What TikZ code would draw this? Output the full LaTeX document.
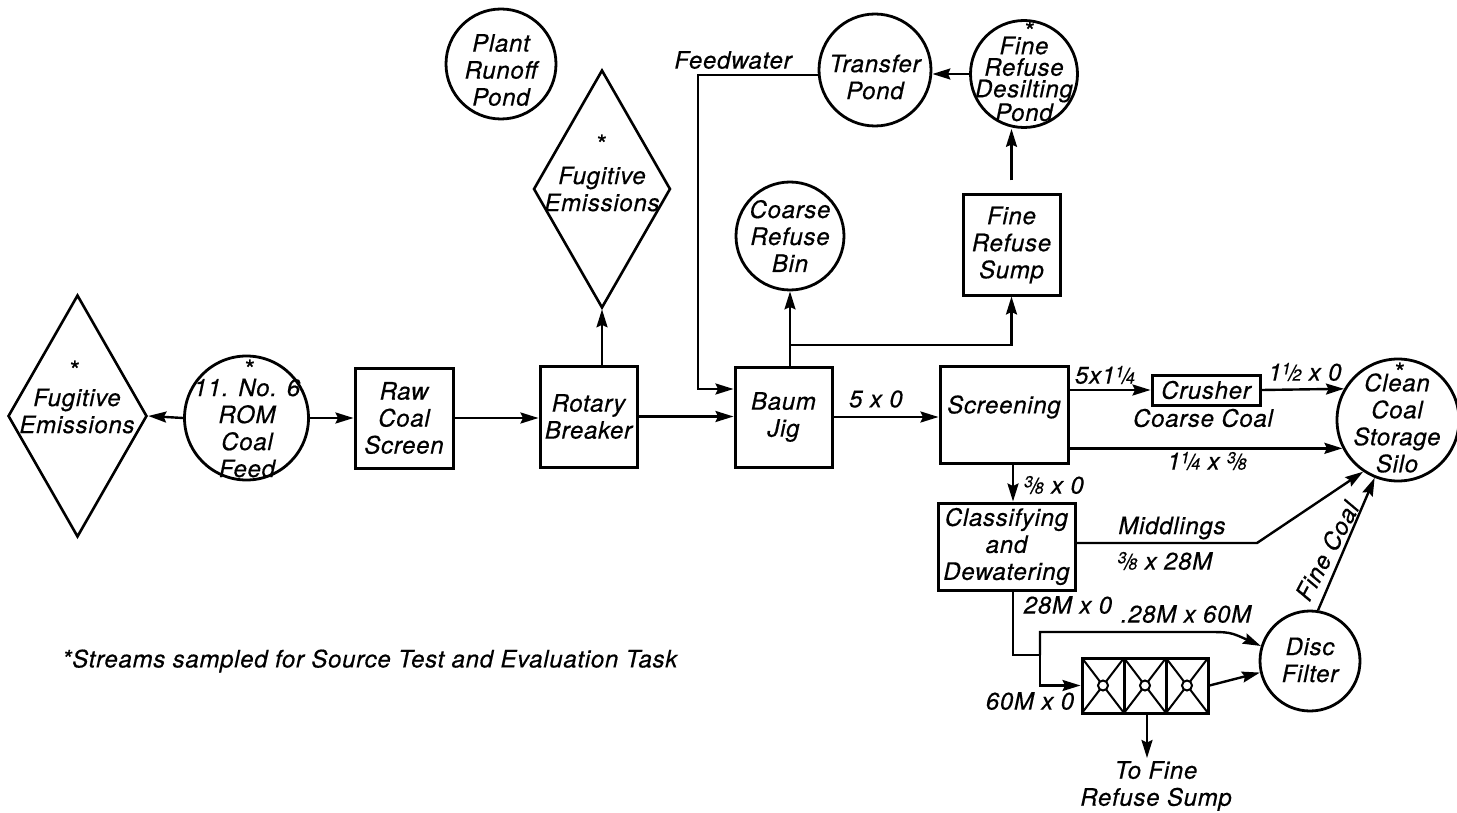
\documentclass[tikz,border=0pt]{standalone}
\usepackage{fontspec}
\setmainfont[LetterSpace=3,FakeBold=0.5]{TeX Gyre Heros}
\usetikzlibrary{shapes.geometric,arrows.meta}
\newcommand\myfrac[2]{\raisebox{0.5ex}{\fontsize{16}{16}\selectfont #1}\kern-0.08em{\fontsize{22}{22}\selectfont /}\kern-0.1em{\fontsize{16}{16}\selectfont #2}}
\begin{document}
\begin{tikzpicture}[x=1pt,y=-1pt,
 lbl/.style={font=\fontsize{24}{27}\selectfont\itshape, align=center, inner sep=0pt},
 star/.style={font=\fontsize{26}{26}\selectfont, inner sep=0pt},
 box/.style={draw, line width=3pt, inner sep=0pt, lbl},
 circ/.style={draw, circle, line width=2.8pt, inner sep=0pt},
 dia/.style={draw, diamond, line width=2.6pt, inner sep=0pt},
 line/.style={line width=2.4pt},
 flow/.style={line width=2.4pt, -{Stealth[length=18pt,width=11pt,inset=2.5pt]}},
]
\useasboundingbox (0,0) rectangle (1457,813);

% left diamond and ROM feed
\node[dia, minimum width=139, minimum height=242] (dl) at (77.5,416) {};
\node[star] (dls) at (75,370) {*};
\node[lbl] (dlt) at (77,411) {Fugitive\\Emissions};
\node[circ, minimum size=124] (rom) at (246.5,418) {};
\node[star] (roms) at (250,369) {*};
\node[lbl] (romt) at (247,428) {11. No. 6\\ROM\\Coal\\Feed};
\node[box, minimum width=98, minimum height=100] (raw) at (404,418) {Raw\\Coal\\Screen};
\node[box, minimum width=97, minimum height=101] (rb) at (588.5,416.5) {Rotary\\Breaker};
\node[dia, minimum width=137, minimum height=238] (dt) at (602,189) {};
\node[star] (dts) at (602,144) {*};
\node[lbl] (dtt) at (602,189) {Fugitive\\Emissions};
\node[circ, minimum size=110] (prp) at (501,64) {};
\node[lbl] (prpt) at (501,70) {Plant\\Runoff\\Pond};
\node[box, minimum width=97, minimum height=100] (jig) at (783.5,417) {Baum\\Jig};
\node[circ, minimum size=112] (tp) at (875,70) {};
\node[lbl] (tpt) at (875,77) {Transfer\\Pond};
\node[circ, minimum size=107] (dp) at (1024,74) {};
\node[star] (dps) at (1030,31) {*};
\node[lbl, font=\fontsize{24}{21.5}\selectfont\itshape] (dpt) at (1024,79) {Fine\\Refuse\\Desilting\\Pond};
\node[circ, minimum size=108] (bin) at (790,236) {};
\node[lbl] (bint) at (790,236) {Coarse\\Refuse\\Bin};
\node[box, minimum width=97, minimum height=100] (sump) at (1011.5,245) {Fine\\Refuse\\Sump};
\node[box, minimum width=128, minimum height=97] (scr) at (1004,414.5) {};
\node[lbl] (scrt) at (1004,407) {Screening};
\node[box, minimum width=108, minimum height=30] (cru) at (1206,390) {Crusher};
\node[lbl] (cct) at (1203,418) {Coarse Coal};
\node[circ, minimum size=122] (silo) at (1398,420) {};
\node[star] (silos) at (1400,372) {*};
\node[lbl] (silot) at (1397,423) {Clean\\Coal\\Storage\\Silo};
\node[box, minimum width=137, minimum height=87] (cls) at (1006.5,546.5) {Classifying\\and\\Dewatering};
\node[circ, minimum size=100] (df) at (1310,661) {};
\node[lbl] (dft) at (1310,660) {Disc\\Filter};

% cyclone bank
\node[draw, line width=3pt, minimum width=126, minimum height=55, inner sep=0pt] (cyc) at (1145,685.5) {};
\foreach \i in {0,1,2} {
  \pgfmathsetmacro\xa{1082+42*\i}
  \pgfmathsetmacro\xb{\xa+42}
  \draw[line width=2pt] (\xa,658) -- (\xb,713) (\xa,713) -- (\xb,658);
  \draw[line width=2pt, fill=white] ({\xa+21},685.5) circle[radius=5pt];
}
\draw[line width=3pt] (1124,658) -- (1124,713) (1166,658) -- (1166,713);

% labels
\node[lbl] (l1) at (876,399) {5 x 0};
\node[lbl] (l2) at (1105,375) {5x1\myfrac{1}{4}};
\node[lbl] (l3) at (1305,372) {1\myfrac{1}{2} x 0};
\node[lbl] (l4) at (1207,461) {1\myfrac{1}{4} x \myfrac{3}{8}};
\node[lbl] (l5) at (1054,485) {\myfrac{3}{8} x 0};
\node[lbl] (l6) at (1172,528) {Middlings};
\node[lbl] (l7) at (1165,561) {\myfrac{3}{8} x 28M};
\node[lbl, rotate=62] (l8) at (1327,551) {Fine Coal};
\node[lbl] (l9) at (1068,605) {28M x 0};
\node[lbl] (l10) at (1186,614) {.28M x 60M};
\node[lbl] (l11) at (1030,701) {60M x 0};
\node[lbl] (l12) at (1156,786) {To Fine\\Refuse Sump};
\node[lbl] (l13) at (733,60) {Feedwater};
\node[lbl, anchor=west, font=\fontsize{24}{24}\selectfont\itshape] (foot) at (62,661) {*Streams sampled for Source Test and Evaluation Task};

% connectors
\draw[flow] (rom.west) -- (dl.east);
\draw[flow] (rom.east) -- (raw.west);
\draw[flow] (raw.east) -- (raw.east -| rb.west);
\draw[flow] (dt.south |- rb.north) -- (dt.south);
\draw[flow] (rb.east) -- (rb.east -| jig.west);
\draw[flow] (jig.east) -- (jig.east -| scr.west);
\coordinate (fw) at (698,389);
\draw[flow] (tp.185) -| (fw) -- (fw -| jig.west);
\coordinate (jt) at (792,345);
\draw[flow] (jig.north -| bin.south) -- (bin.south);
\draw[flow] (bin.south |- jt) -| (sump.south);
\draw[flow, shorten <=13pt] (sump.north) -- (sump.north |- dp.south);
\draw[flow] (dp.west) -- (dp.west -| tp.east);
\draw[flow] (scr.east |- cru.west) -- (cru.west);
\draw[flow] (cru.east) -- (silo.150);
\draw[flow] (scr.east |- silo.207) -- (silo.207);
\coordinate (xs) at (1013,480);
\draw[flow] (scr.south -| xs) -- (cls.north -| xs);
\coordinate (mb) at (1257,543);
\draw[flow] (cls.east |- mb) -- (mb) -- (silo.236);
\draw[flow] (df.81) -- (silo.248);
\coordinate (b1) at (1013,655);
\coordinate (b2) at (1040,655);
\coordinate (b3) at (1040,632);
\coordinate (b4) at (1205,632);
\draw[line] (cls.south -| b1) -- (b1) -- (b2);
\draw[flow] (b2) -- (b3) -- (b4) .. controls (1230,632) .. (df.163);
\draw[flow] (b2) |- (cyc.west);
\draw[flow] (cyc.east) -- (df.193);
\coordinate (ts) at (1147,758);
\draw[flow] (cyc.south -| ts) -- (ts);
\end{tikzpicture}
\end{document}
